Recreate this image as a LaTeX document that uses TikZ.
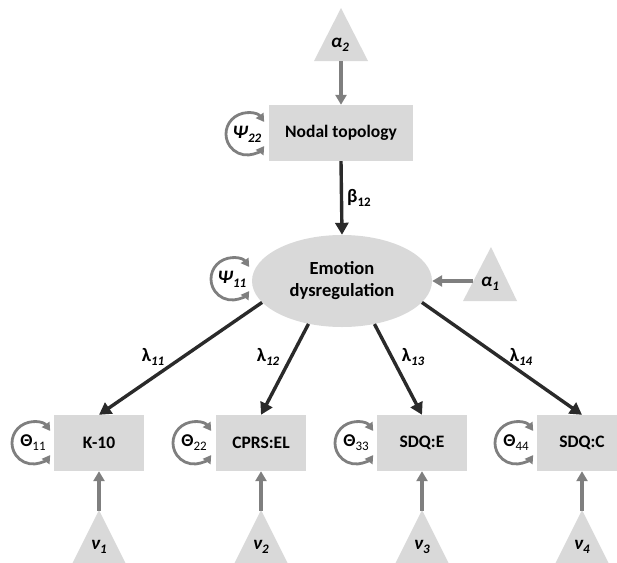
\documentclass[tikz,border=0pt]{standalone}
\usepackage{fontspec}
\setmainfont{Carlito}
\usetikzlibrary{arrows.meta,shapes.geometric}
\definecolor{boxgray}{HTML}{D9D9D9}
\definecolor{arrgray}{HTML}{7F7F7F}
\definecolor{arrdark}{HTML}{2A2A2A}
\newcommand{\sbs}[1]{\raisebox{-0.22em}{\fontsize{13}{13}\selectfont #1}}
\begin{document}
\begin{tikzpicture}[x=1pt,y=1pt,
 box/.style={fill=boxgray, minimum height=56pt, minimum width=90pt, inner sep=0pt, font=\fontsize{17.5}{21}\selectfont\bfseries},
 tri/.style={fill=boxgray},
 lab/.style={font=\fontsize{19}{21}\selectfont\bfseries, inner sep=0pt},
 thlab/.style={font=\fontsize{18}{19}\selectfont, inner sep=0pt},
 grayarr/.style={draw=arrgray, line width=3.2pt, -{Triangle[length=10pt,width=11pt]}},
 darkarr/.style={draw=arrdark, line width=3.4pt, -{Triangle[length=12pt,width=13pt]}},
 looparr/.style={draw=arrgray, line width=2.8pt, {Triangle[length=8pt,width=9pt]}-{Triangle[length=8pt,width=9pt]}},
]
\useasboundingbox (0,0) rectangle (617,-562);

% alpha2 triangle
\fill[tri] (341,-8) -- (368,-61) -- (314,-61) -- cycle;
\node[lab] (a2) at (340,-45) {\itshape α\sbs{2}};
\coordinate (a2base) at (341,-61);

% Nodal topology
\node[box, minimum width=144pt] (nt) at (341,-133) {Nodal topology};
\draw[grayarr] (a2base) -- (nt.north);

% psi22 loop
\node[lab] (psi22) at (247,-134) {\itshape Ψ\sbs{22}};
\draw[looparr] ([shift={(35:21)}]psi22.center) arc[start angle=35, end angle=325, radius=21];

% Emotion dysregulation
\node[ellipse, fill=boxgray, minimum width=180pt, minimum height=92pt, inner sep=0pt,
      font=\fontsize{18.5}{22}\selectfont\bfseries, align=center] (ed) at (342,-281) {Emotion\\dysregulation};
\draw[darkarr] (nt.south) -- (ed.north) node[midway, right=4pt, lab] (b12) {β\sbs{12}};

% psi11 loop
\node[lab] (psi11) at (232,-279) {\itshape Ψ\sbs{11}};
\draw[looparr] ([shift={(35:21)}]psi11.center) arc[start angle=35, end angle=325, radius=21];

% alpha1 triangle
\fill[tri] (491,-247) -- (517,-301) -- (463,-301) -- cycle;
\node[lab] (a1) at (490,-284) {\itshape α\sbs{1}};
\coordinate (a1left) at (473,-281);
\draw[grayarr] (a1left) -- (ed.east);

% observed variables
\node[box] (k10) at (99,-443) {K-10};
\node[box] (cprs) at (261,-443) {CPRS:EL};
\node[box] (sdqe) at (422,-443) {SDQ:E};
\node[box] (sdqc) at (582,-443) {SDQ:C};

% loadings
\draw[darkarr] (ed.195) -- (k10.north);
\draw[darkarr] (ed.232) -- (cprs.north);
\draw[darkarr] (ed.307) -- (sdqe.north);
\draw[darkarr] (ed.345) -- (sdqc.north);
\node[lab] (l11) at (153,-357) {λ\sbs{\itshape 11}};
\node[lab] (l12) at (268,-357) {λ\sbs{\itshape 12}};
\node[lab] (l13) at (413,-357) {λ\sbs{\itshape 13}};
\node[lab] (l14) at (521,-357) {λ\sbs{\itshape 14}};

% theta loops
\node[thlab] (t11) at (33,-443) {\textbf{Θ}\sbs{11}};
\node[thlab] (t22) at (194,-443) {\textbf{Θ}\sbs{22}};
\node[thlab] (t33) at (356,-443) {\textbf{Θ}\sbs{33}};
\node[thlab] (t44) at (516,-443) {\textbf{Θ}\sbs{44}};
\foreach \t in {t11,t22,t33,t44}{
  \draw[looparr] ([shift={(35:21)}]\t.center) arc[start angle=35, end angle=325, radius=21];
}

% nu triangles
\foreach \cx/\nm/\tg/\i in {99/n1/k10/1, 261/n2/cprs/2, 422/n3/sdqe/3, 582/n4/sdqc/4}{
  \fill[tri] (\cx,-510) -- (\cx+28,-566) -- (\cx-28,-566) -- cycle;
  \node[lab] (\nm) at (\cx,-547) {\itshape ν\sbs{\i}};
  \coordinate (\nm top) at (\cx,-511);
  \draw[grayarr] (\nm top) -- (\tg.south);
}
\end{tikzpicture}
\end{document}
